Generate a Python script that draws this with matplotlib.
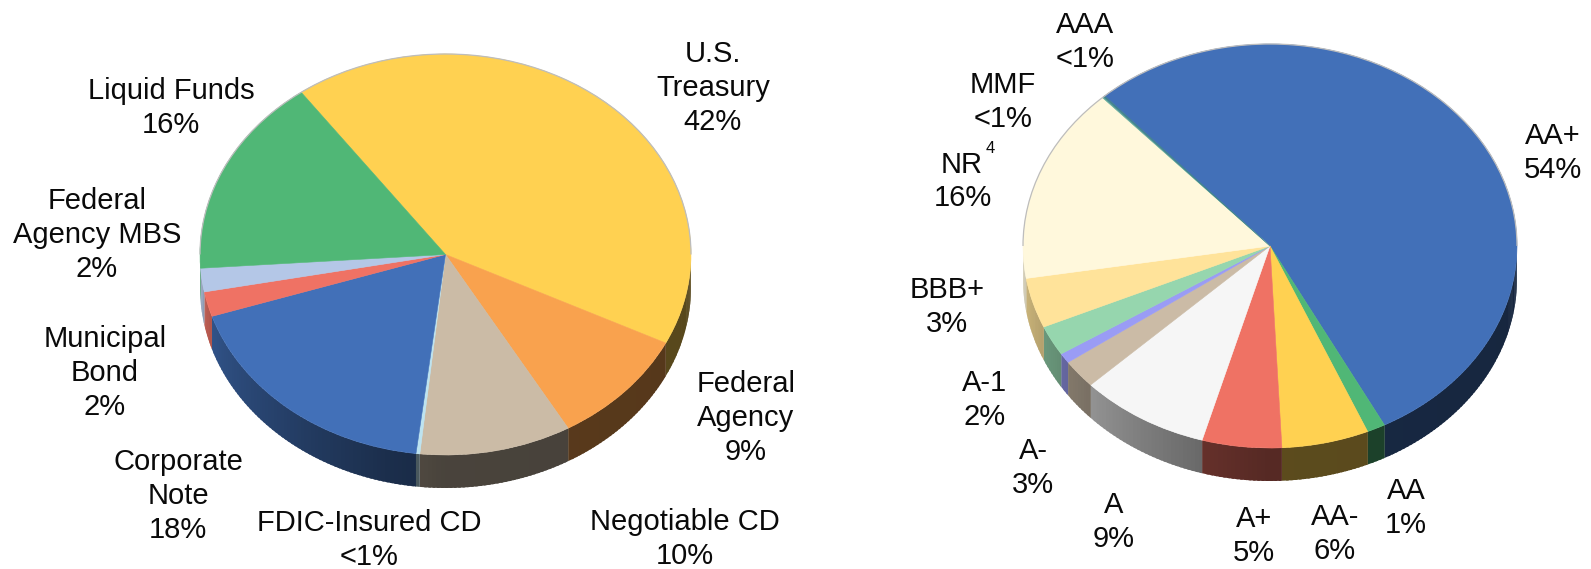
import matplotlib
matplotlib.use("Agg")
import matplotlib.pyplot as plt
import numpy as np
from matplotlib.colors import to_rgb
from matplotlib.patches import Arc
from matplotlib.transforms import Affine2D

# Data, slice sizes
left_labels = [
    "U.S.\nTreasury\n42%",
    "Federal\nAgency\n9%",
    "Negotiable CD\n10%",
    "FDIC-Insured CD\n<1%",
    "Corporate\nNote\n18%",
    "Municipal\nBond\n2%",
    "Federal\nAgency MBS\n2%",
    "Liquid Funds\n16%",
]
left_values = [42.3, 9.4, 10, 0.25, 18.1, 2, 1.9, 16.1]
left_colors = ["#FFD151", "#F9A24E", "#CBBBA6", "#BDE3F0", "#4270B8", "#EF7264", "#B4C7E7", "#50B776"]
left_label_pos = [(713, 86), (746, 416), (685, 537), (369, 538), (178, 494), (105, 371), (97, 233), (171, 106)]

right_labels = [
    "AA+\n54%",
    "AA\n1%",
    "AA-\n6%",
    "A+\n5%",
    "A\n9%",
    "A-\n3%",
    "",  # thin violet slice has no label
    "A-1\n2%",
    "BBB+\n3%",
    "",  # NR label is written below, with its footnote mark
    "MMF\n<1%",
    "AAA\n<1%",
]
right_values = [54, 1.2, 5.7, 5.2, 8.5, 2.3, 0.8, 2.4, 4.0, 15.7, 0.1, 0.1]
right_colors = [
    "#4270B8", "#50B776", "#FFD151", "#EF7264", "#F6F6F6", "#CBBBA6",
    "#9A9CF5", "#96D6AE", "#FFE39A", "#FFF8DC", "#5FA89A", "#3F7F8F",
]
right_label_pos = [
    (1553, 151), (1406, 506), (1335, 532), (1254, 534), (1114, 520), (1033, 466),
    (0, 0), (985, 398), (947, 305), (0, 0), (1003, 100), (1085, 40),
]

W, H = 1591, 569
DEPTH = 33
TEXT_COLOR = "#0A0A0A"

plt.rcParams["font.family"] = "Liberation Sans"

fig = plt.figure(figsize=(W / 100, H / 100), dpi=100)
ax = fig.add_axes([0, 0, 1, 1])


def draw_pie(values, colors, labels, label_pos, cx, cy, rx, ry, start):
    # positions are given in image pixels, y from the top
    cy = H - cy
    wedges, _ = ax.pie(
        values,
        colors=colors,
        startangle=start,
        counterclock=False,
        center=(cx, cy),
        radius=rx,
    )
    squash = Affine2D().translate(-cx, -cy).scale(1, ry / rx).translate(cx, cy)

    for wedge, color in zip(wedges, colors):
        wedge.set_transform(squash + ax.transData)
        wedge.set_zorder(2)
        wedge.set_edgecolor(color)
        wedge.set_linewidth(0.4)

        # side wall, one narrow strip per degree, only the front part shows
        thetas = np.arange(wedge.theta1, wedge.theta2 + 1, 1.0)
        thetas[-1] = wedge.theta2
        base = np.array(to_rgb(color))
        for t0, t1 in zip(thetas[:-1], thetas[1:]):
            mid = (t0 + t1) / 2
            if np.sin(np.radians(mid)) >= 0.02:
                continue
            shade = np.interp(mid % 360, [180, 205, 255, 270, 360], [0.85, 0.7, 0.42, 0.36, 0.34])
            # small overlap so no seams show between strips
            tt = np.radians([t0, min(t1 + 0.6, wedge.theta2)])
            xs = cx + rx * np.cos(tt)
            ys = cy + ry * np.sin(tt)
            ax.fill(
                [xs[0], xs[1], xs[1], xs[0]],
                [ys[0], ys[1], ys[1] - DEPTH, ys[0] - DEPTH],
                facecolor=base * shade,
                linewidth=0,
                zorder=1,
            )

    # thin grey rim along the back of the top face
    ax.add_patch(Arc((cx, cy), 2 * rx, 2 * ry, theta1=0, theta2=180, color="#BDBDBD", lw=0.9, zorder=3))

    for label, (x, y) in zip(labels, label_pos):
        if label:
            ax.text(x, H - y - 2, label, ha="center", va="center", fontsize=21, linespacing=1.28, color=TEXT_COLOR)


draw_pie(left_values, left_colors, left_labels, left_label_pos, 445.5, 254.5, 245.5, 200.5, 126)
draw_pie(right_values, right_colors, right_labels, right_label_pos, 1270, 246, 247, 202, 132)

ax.text(962, H - 165, "NR", ha="center", va="center", fontsize=21, color=TEXT_COLOR)
ax.text(963, H - 198, "16%", ha="center", va="center", fontsize=21, color=TEXT_COLOR)
ax.text(990, H - 148, "4", ha="center", va="center", fontsize=12, color=TEXT_COLOR)

ax.set_xlim(0, W)
ax.set_ylim(0, H)
ax.axis("off")

plt.savefig("out.png", dpi=100)
